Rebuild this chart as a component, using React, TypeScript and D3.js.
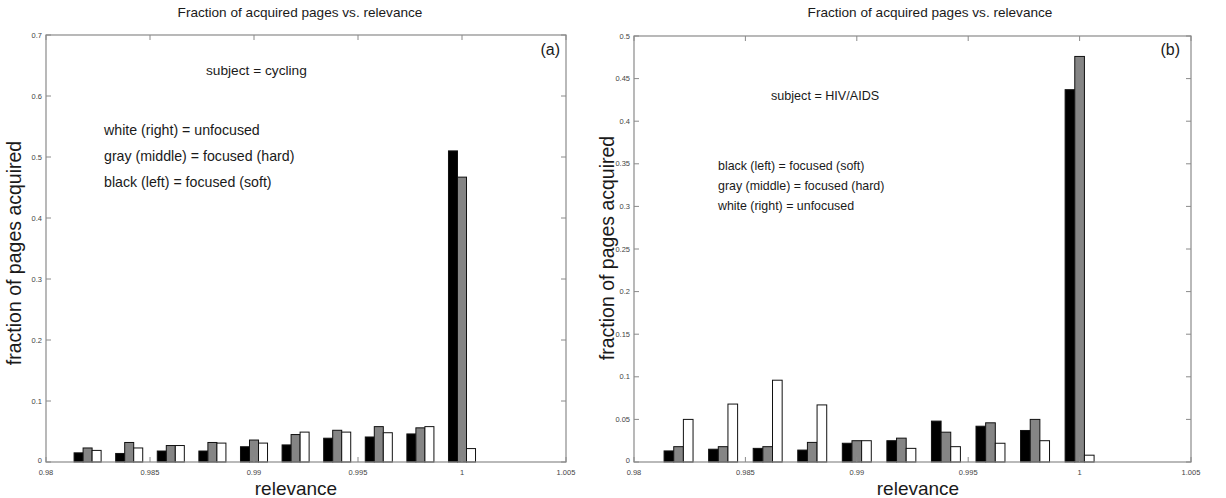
import React, { useEffect, useRef } from 'react';
import * as d3 from 'd3';

// relevance bins (group centres on the x axis)
const relevanceBins = [0.982, 0.984, 0.986, 0.988, 0.99, 0.992, 0.994, 0.996, 0.998, 1.0];

// (a) subject = cycling
const cyclingSoft = [0.015, 0.014, 0.018, 0.018, 0.025, 0.028, 0.039, 0.041, 0.046, 0.51];
const cyclingHard = [0.023, 0.032, 0.027, 0.032, 0.036, 0.045, 0.052, 0.058, 0.056, 0.467];
const cyclingUnfocused = [0.019, 0.023, 0.027, 0.031, 0.031, 0.049, 0.049, 0.048, 0.058, 0.022];

// (b) subject = HIV/AIDS
const hivSoft = [0.013, 0.015, 0.016, 0.014, 0.022, 0.025, 0.048, 0.042, 0.037, 0.437];
const hivHard = [0.018, 0.018, 0.018, 0.023, 0.025, 0.028, 0.035, 0.046, 0.05, 0.476];
const hivUnfocused = [0.05, 0.068, 0.096, 0.067, 0.025, 0.016, 0.018, 0.022, 0.025, 0.008];

const xTicks = [0.98, 0.985, 0.99, 0.995, 1, 1.005];
const cyclingYTicks = [0, 0.1, 0.2, 0.3, 0.4, 0.5, 0.6, 0.7];
const hivYTicks = [0, 0.05, 0.1, 0.15, 0.2, 0.25, 0.3, 0.35, 0.4, 0.45, 0.5];

const seriesKeys = ['soft', 'hard', 'unfocused'];
const seriesFill: Record<string, string> = { soft: '#000', hard: '#858585', unfocused: '#fff' };

const FONT = 'Liberation Sans, Arial, Helvetica, sans-serif';
const INK = '#1a1a1a';
const AXIS = '#8a8a8a';

interface Note {
  text: string;
  x: number;
  y: number;
  size: number;
}

interface PanelSpec {
  left: number;
  right: number;
  top: number;
  bottom: number;
  yMax: number;
  yTicks: number[];
  series: number[][];
  tag: string;
  tagX: number;
  titleX: number;
  xLabelX: number;
  yLabelX: number;
  yLabelY: number;
  notes: Note[];
}

const panels: PanelSpec[] = [
  {
    left: 46, right: 566, top: 35, bottom: 462,
    yMax: 0.7, yTicks: cyclingYTicks,
    series: [cyclingSoft, cyclingHard, cyclingUnfocused],
    tag: '(a)', tagX: 560, titleX: 300, xLabelX: 296, yLabelX: 21, yLabelY: 253,
    notes: [
      { text: 'subject = cycling', x: 206, y: 70, size: 13.7 },
      { text: 'white (right) = unfocused', x: 104, y: 130, size: 14.2 },
      { text: 'gray (middle) = focused (hard)', x: 104, y: 156, size: 14.2 },
      { text: 'black (left) = focused (soft)', x: 104, y: 182, size: 14.2 },
    ],
  },
  {
    left: 634, right: 1191, top: 36, bottom: 462,
    yMax: 0.5, yTicks: hivYTicks,
    series: [hivSoft, hivHard, hivUnfocused],
    tag: '(b)', tagX: 1180, titleX: 930, xLabelX: 918, yLabelX: 614, yLabelY: 248,
    notes: [
      { text: 'subject = HIV/AIDS', x: 771, y: 95, size: 12.6 },
      { text: 'black (left) = focused (soft)', x: 718, y: 165, size: 12.4 },
      { text: 'gray (middle) = focused (hard)', x: 718, y: 185, size: 12.4 },
      { text: 'white (right) = unfocused', x: 718, y: 205, size: 12.4 },
    ],
  },
];

export default function App() {
  const svgRef = useRef<SVGSVGElement>(null);

  useEffect(() => {
    if (!svgRef.current) return;
    const svg = d3.select(svgRef.current);
    svg.selectAll('*').remove();

    panels.forEach((p) => {
      const g = svg.append('g');
      const x = d3.scaleLinear().domain([0.98, 1.005]).range([p.left, p.right]);
      const y = d3.scaleLinear().domain([0, p.yMax]).range([p.bottom, p.top]);
      // grouped bars: three bars side by side around each bin centre
      const half = x(0.98 + 0.00065) - x(0.98);
      const offset = d3.scaleBand<string>().domain(seriesKeys).range([-half, half]);

      seriesKeys.forEach((key, si) => {
        g.append('g')
          .selectAll('rect')
          .data(relevanceBins.map((b, i) => ({ b, v: p.series[si][i] })))
          .join('rect')
          .attr('x', (d) => x(d.b) + (offset(key) as number))
          .attr('y', (d) => y(d.v))
          .attr('width', offset.bandwidth())
          .attr('height', (d) => y(0) - y(d.v))
          .attr('fill', seriesFill[key])
          .attr('stroke', '#111')
          .attr('stroke-width', 1);
      });

      // axes box
      g.append('rect')
        .attr('x', p.left).attr('y', p.top)
        .attr('width', p.right - p.left).attr('height', p.bottom - p.top)
        .attr('fill', 'none').attr('stroke', AXIS).attr('stroke-width', 1.2);

      const tickLen = 5;
      xTicks.forEach((t) => {
        g.append('line')
          .attr('x1', x(t)).attr('x2', x(t))
          .attr('y1', p.bottom).attr('y2', p.bottom - tickLen)
          .attr('stroke', AXIS);
        g.append('line')
          .attr('x1', x(t)).attr('x2', x(t))
          .attr('y1', p.top).attr('y2', p.top + tickLen)
          .attr('stroke', AXIS);
        g.append('text')
          .attr('x', x(t)).attr('y', p.bottom + 13)
          .attr('text-anchor', 'middle')
          .attr('font-size', 7.5).attr('fill', '#444')
          .style('font-family', FONT)
          .text(String(t));
      });

      p.yTicks.forEach((t) => {
        g.append('line')
          .attr('x1', p.left).attr('x2', p.left + tickLen)
          .attr('y1', y(t)).attr('y2', y(t))
          .attr('stroke', AXIS);
        g.append('line')
          .attr('x1', p.right).attr('x2', p.right - tickLen)
          .attr('y1', y(t)).attr('y2', y(t))
          .attr('stroke', AXIS);
        g.append('text')
          .attr('x', p.left - 4).attr('y', y(t) - (t === 0 ? 2 : 0))
          .attr('dy', '0.35em')
          .attr('text-anchor', 'end')
          .attr('font-size', 7.5).attr('fill', '#444')
          .style('font-family', FONT)
          .text(String(t));
      });

      g.append('text')
        .attr('x', p.titleX).attr('y', 17)
        .attr('text-anchor', 'middle')
        .attr('font-size', 13.6).attr('fill', INK)
        .style('font-family', FONT)
        .text('Fraction of acquired pages vs. relevance');

      g.append('text')
        .attr('x', p.xLabelX).attr('y', 495)
        .attr('text-anchor', 'middle')
        .attr('font-size', 19).attr('fill', INK)
        .style('font-family', FONT)
        .text('relevance');

      g.append('text')
        .attr('transform', `translate(${p.yLabelX},${p.yLabelY}) rotate(-90)`)
        .attr('text-anchor', 'middle')
        .attr('font-size', 19.5).attr('fill', INK)
        .style('font-family', FONT)
        .text('fraction of pages acquired');

      g.append('text')
        .attr('x', p.tagX).attr('y', 55)
        .attr('text-anchor', 'end')
        .attr('font-size', 16).attr('fill', INK)
        .style('font-family', FONT)
        .text(p.tag);

      p.notes.forEach((n) => {
        g.append('text')
          .attr('x', n.x).attr('y', n.y + 5)
          .attr('font-size', n.size).attr('fill', INK)
          .style('font-family', FONT)
          .text(n.text);
      });
    });
  }, []);

  return (
    <svg
      ref={svgRef}
      width={1226}
      height={498}
      viewBox="0 0 1226 498"
      style={{ position: 'absolute', left: 0, top: 0, background: '#fff' }}
    />
  );
}
